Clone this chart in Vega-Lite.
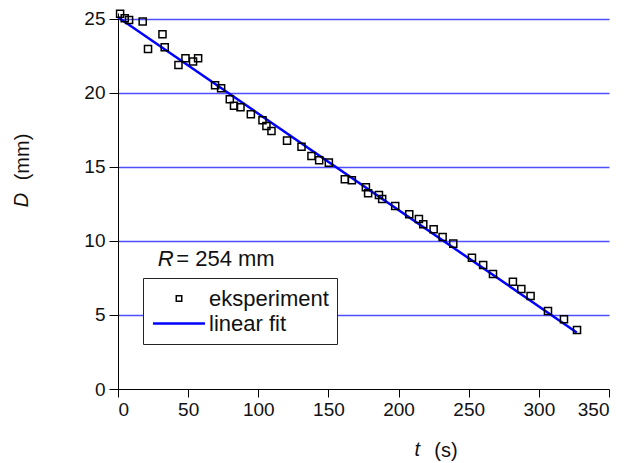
{
  "$schema": "https://vega.github.io/schema/vega-lite/v6.json",
  "width": 491,
  "height": 376,
  "autosize": {"type": "none"},
  "padding": {"left": 118, "top": 13, "right": 25, "bottom": 74},
  "background": "white",
  "config": {
    "view": {"stroke": null},
    "font": "Liberation Sans",
    "axis": {
      "domainColor": "#000000",
      "domainWidth": 1,
      "tickColor": "#000000",
      "tickWidth": 1,
      "labelFont": "Liberation Sans",
      "labelFontSize": 19,
      "labelColor": "#111111",
      "titleFont": "Liberation Sans",
      "titleFontSize": 20,
      "titleFontWeight": "normal",
      "titleColor": "#111111"
    }
  },
  "datasets": {
    "points": [
      {"t": 1.5, "D": 25.35, "series": "eksperiment"},
      {"t": 4.8, "D": 25.05, "series": "eksperiment"},
      {"t": 7.9, "D": 24.93, "series": "eksperiment"},
      {"t": 17.6, "D": 24.82, "series": "eksperiment"},
      {"t": 21.4, "D": 22.97, "series": "eksperiment"},
      {"t": 31.7, "D": 23.96, "series": "eksperiment"},
      {"t": 33.3, "D": 23.09, "series": "eksperiment"},
      {"t": 43.1, "D": 21.89, "series": "eksperiment"},
      {"t": 48.1, "D": 22.34, "series": "eksperiment"},
      {"t": 53.5, "D": 22.12, "series": "eksperiment"},
      {"t": 57.1, "D": 22.34, "series": "eksperiment"},
      {"t": 69.2, "D": 20.52, "series": "eksperiment"},
      {"t": 73.5, "D": 20.32, "series": "eksperiment"},
      {"t": 79.7, "D": 19.57, "series": "eksperiment"},
      {"t": 82.7, "D": 19.14, "series": "eksperiment"},
      {"t": 87.3, "D": 19.03, "series": "eksperiment"},
      {"t": 94.7, "D": 18.56, "series": "eksperiment"},
      {"t": 103.0, "D": 18.15, "series": "eksperiment"},
      {"t": 105.8, "D": 17.77, "series": "eksperiment"},
      {"t": 109.4, "D": 17.43, "series": "eksperiment"},
      {"t": 120.5, "D": 16.78, "series": "eksperiment"},
      {"t": 130.8, "D": 16.37, "series": "eksperiment"},
      {"t": 137.9, "D": 15.74, "series": "eksperiment"},
      {"t": 143.4, "D": 15.45, "series": "eksperiment"},
      {"t": 150.3, "D": 15.29, "series": "eksperiment"},
      {"t": 161.7, "D": 14.17, "series": "eksperiment"},
      {"t": 166.7, "D": 14.10, "series": "eksperiment"},
      {"t": 176.7, "D": 13.63, "series": "eksperiment"},
      {"t": 178.3, "D": 13.22, "series": "eksperiment"},
      {"t": 186.0, "D": 13.11, "series": "eksperiment"},
      {"t": 188.3, "D": 12.84, "series": "eksperiment"},
      {"t": 197.6, "D": 12.36, "series": "eksperiment"},
      {"t": 207.6, "D": 11.80, "series": "eksperiment"},
      {"t": 214.5, "D": 11.49, "series": "eksperiment"},
      {"t": 217.6, "D": 11.13, "series": "eksperiment"},
      {"t": 225.0, "D": 10.79, "series": "eksperiment"},
      {"t": 231.4, "D": 10.27, "series": "eksperiment"},
      {"t": 239.0, "D": 9.82, "series": "eksperiment"},
      {"t": 252.3, "D": 8.87, "series": "eksperiment"},
      {"t": 260.3, "D": 8.38, "series": "eksperiment"},
      {"t": 267.3, "D": 7.77, "series": "eksperiment"},
      {"t": 281.5, "D": 7.25, "series": "eksperiment"},
      {"t": 287.5, "D": 6.76, "series": "eksperiment"},
      {"t": 294.1, "D": 6.28, "series": "eksperiment"},
      {"t": 306.5, "D": 5.27, "series": "eksperiment"},
      {"t": 317.9, "D": 4.71, "series": "eksperiment"},
      {"t": 327.2, "D": 3.99, "series": "eksperiment"}
    ],
    "fit": [
      {"t": 0, "D": 25.11, "series": "linear fit"},
      {"t": 327, "D": 3.82, "series": "linear fit"}
    ]
  },
  "layer": [
    {
      "data": {"name": "fit"},
      "mark": {"type": "line", "strokeWidth": 2.5, "clip": false},
      "encoding": {
        "x": {
          "field": "t", "type": "quantitative",
          "scale": {"domain": [0, 350], "nice": false, "zero": false},
          "axis": {
            "values": [0, 25, 50, 75, 100, 125, 150, 175, 200, 225, 250, 275, 300, 325, 350],
            "labelExpr": "datum.value % 50 === 0 ? datum.label : ''",
            "tickSize": {"condition": {"test": "datum.value % 50 === 0", "value": 8}, "value": 4},
            "labelPadding": 3,
            "grid": false,
            "title": "(s)",
            "titleX": 327.5,
            "titleY": 61,
            "titleAlign": "center",
            "titleBaseline": "middle",
            "titleAnchor": null
          }
        },
        "y": {
          "field": "D", "type": "quantitative",
          "scale": {"domain": [0, 25.4], "nice": false, "zero": false},
          "axis": {
            "values": [0, 2.5, 5, 7.5, 10, 12.5, 15, 17.5, 20, 22.5, 25],
            "labelExpr": "datum.value % 5 === 0 ? datum.label : ''",
            "tickSize": {"condition": {"test": "datum.value % 5 === 0", "value": 9}, "value": 5},
            "labelPadding": 4,
            "grid": true,
            "gridColor": "#3030ff",
            "gridWidth": 1.5,
            "gridOpacity": {"condition": {"test": "datum.value % 5 === 0 && datum.value > 0", "value": 0.85}, "value": 0},
            "title": "(mm)",
            "titleAngle": 270,
            "titleX": -96,
            "titleY": 143.5,
            "titleAlign": "center",
            "titleBaseline": "middle",
            "titleAnchor": null
          }
        },
        "color": {
          "field": "series", "type": "nominal",
          "scale": {"domain": ["eksperiment", "linear fit"], "range": ["#000000", "#0000ff"]},
          "legend": {
            "orient": "none",
            "legendX": 25,
            "legendY": 265,
            "title": null,
            "padding": 8,
            "strokeColor": "#222222",
            "fillColor": "white",
            "symbolSize": 2700,
            "clipHeight": 25,
            "rowPadding": 0,
            "labelFont": "Liberation Sans",
            "labelFontSize": 22,
            "labelColor": "#111111",
            "labelOffset": 2,
            "symbolStrokeWidth": 2.5,
            "encode": {
              "symbols": {
                "update": {
                  "x": {"value": 28},
                  "size": {"signal": "datum.value === 'eksperiment' ? 30 : 2700"},
                  "shape": {"signal": "datum.value === 'eksperiment' ? 'square' : 'stroke'"},
                  "strokeWidth": {"signal": "datum.value === 'eksperiment' ? 1.5 : 2.5"},
                  "fill": {"value": "transparent"},
                  "opacity": {"value": 1}
                }
              },
              "labels": {
                "update": {
                  "x": {"value": 58}
                }
              }
            }
          }
        }
      }
    },
    {
      "data": {"name": "points"},
      "mark": {"type": "point", "shape": "square", "filled": false, "size": 50, "strokeWidth": 1.5, "opacity": 1, "clip": false},
      "encoding": {
        "x": {"field": "t", "type": "quantitative"},
        "y": {"field": "D", "type": "quantitative"},
        "color": {"field": "series", "type": "nominal"}
      }
    },
    {
      "data": {"values": [{}]},
      "mark": {"type": "text", "text": "R", "font": "Liberation Sans", "fontStyle": "italic", "fontSize": 22, "align": "left", "baseline": "alphabetic", "color": "#111111"},
      "encoding": {
        "x": {"datum": 28.3, "type": "quantitative"},
        "y": {"datum": 8.33, "type": "quantitative"}
      }
    },
    {
      "data": {"values": [{}]},
      "mark": {"type": "text", "text": "= 254 mm", "font": "Liberation Sans", "fontSize": 22, "align": "left", "baseline": "alphabetic", "color": "#111111"},
      "encoding": {
        "x": {"datum": 41.5, "type": "quantitative"},
        "y": {"datum": 8.33, "type": "quantitative"}
      }
    },
    {
      "data": {"values": [{}]},
      "mark": {"type": "text", "text": "D", "font": "Liberation Sans", "fontStyle": "italic", "fontSize": 20, "align": "center", "baseline": "middle", "angle": 270, "color": "#111111"},
      "encoding": {
        "x": {"datum": -68.3, "type": "quantitative"},
        "y": {"datum": 12.77, "type": "quantitative"}
      }
    },
    {
      "data": {"values": [{}]},
      "mark": {"type": "text", "text": "t", "font": "Liberation Sans", "fontStyle": "italic", "fontSize": 20, "align": "center", "baseline": "middle", "color": "#111111"},
      "encoding": {
        "x": {"datum": 213.4, "type": "quantitative"},
        "y": {"datum": -4.12, "type": "quantitative"}
      }
    }
  ]
}
